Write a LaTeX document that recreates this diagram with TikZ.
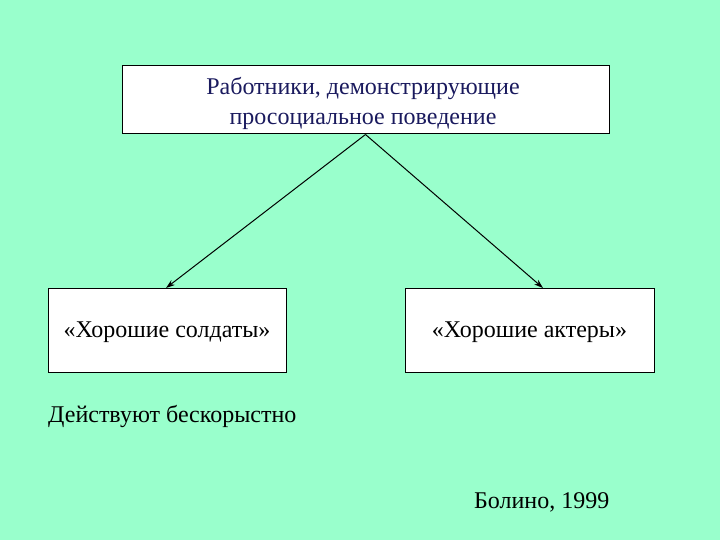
\documentclass[tikz,border=0pt]{standalone}
\usepackage{fontspec}
\setmainfont{Liberation Serif}
\usetikzlibrary{arrows.meta}
\definecolor{bg}{HTML}{99FFCC}
\definecolor{navy}{HTML}{1A1A5E}
\begin{document}
\begin{tikzpicture}[x=1pt,y=-1pt,
  box/.style={draw=black,fill=white,line width=1pt,inner sep=0pt},
  conn/.style={draw=black,line width=1pt,-{Stealth[length=9pt,width=6pt]}},
  txt/.style={font=\fontsize{24}{28}\selectfont}]
\fill[bg] (0,0) rectangle (720,540);
\useasboundingbox (0,0) rectangle (720,540);
\node[box,minimum width=487pt,minimum height=68pt] (top) at (365.5,100) {};
\node[text=navy,align=center,font=\fontsize{24}{30}\selectfont] (toptxt) at (363,103) {Работники, демонстрирующие\\просоциальное поведение};
\node[box,minimum width=238pt,minimum height=84pt] (left) at (167,330) {};
\node[txt] (lefttxt) at (167,332) {«Хорошие солдаты»};
\node[box,minimum width=249pt,minimum height=84pt] (right) at (529.5,330) {};
\node[txt] (righttxt) at (529.5,332) {«Хорошие актеры»};
\node[txt,anchor=west,inner sep=0pt] (dejst) at (48,416) {Действуют бескорыстно};
\node[txt,anchor=west,inner sep=0pt] (bolino) at (474,502) {Болино, 1999};
\coordinate (a) at (top.south);
\coordinate (lt) at (166,288);
\coordinate (rt) at (543,288);
\draw[conn] (a) -- (lt);
\draw[conn] (a) -- (rt);
\end{tikzpicture}
\end{document}
